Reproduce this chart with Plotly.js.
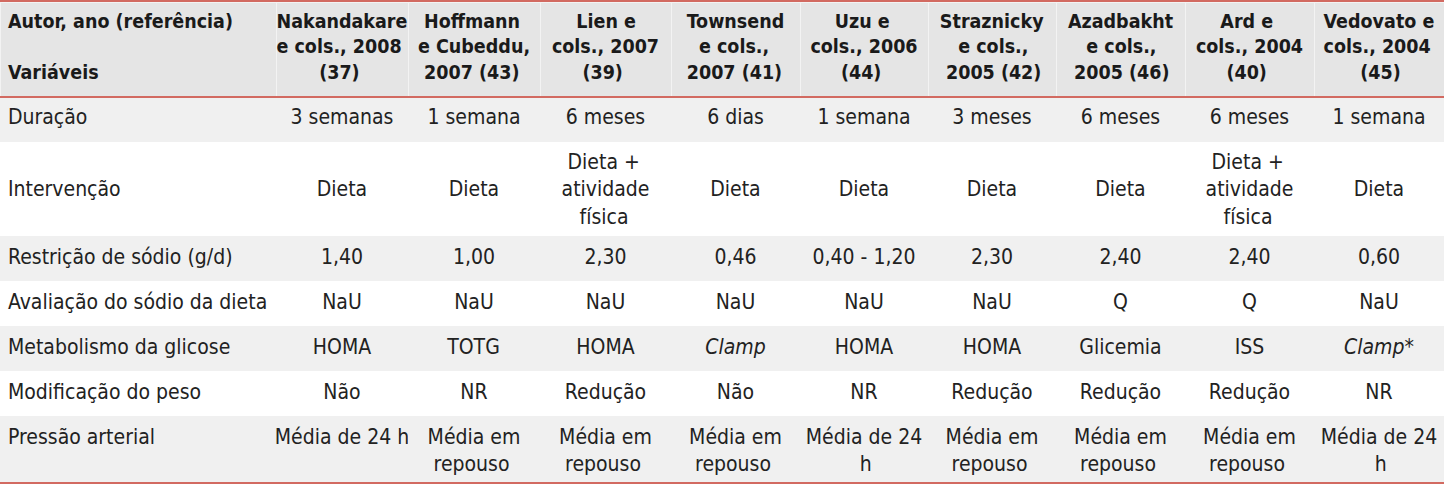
<!DOCTYPE html>
<html>
<head>
<meta charset="utf-8">
<script src="https://cdn.plot.ly/plotly-3.0.1.min.js"></script>
<style>
  html, body { margin: 0; padding: 0; background: #fff; }
  #tab { width: 1444px; height: 486px; }
</style>
</head>
<body>
<div id="tab"></div>
<script>
const headerFirst = 'Autor, ano (referência)<br> <br>Variáveis';
const autores = [
  'Nakandakare<br>e cols., 2008<br>(37)',
  'Hoffmann<br>e Cubeddu,<br>2007 (43)',
  'Lien e<br>cols., 2007<br>(39)',
  'Townsend<br>e cols.,<br>2007 (41)',
  'Uzu e<br>cols., 2006<br>(44)',
  'Straznicky<br>e cols.,<br>2005 (42)',
  'Azadbakht<br>e cols.,<br>2005 (46)',
  'Ard e<br>cols., 2004<br>(40)',
  'Vedovato e<br>cols., 2004<br>(45)'
];

const variaveis = [
  'Duração',
  ' <br>Intervenção',
  'Restrição de sódio (g/d)',
  'Avaliação do sódio da dieta',
  'Metabolismo da glicose',
  'Modificação do peso',
  'Pressão arterial'
];

const duracao = ['3 semanas', '1 semana', '6 meses', '6 dias', '1 semana', '3 meses', '6 meses', '6 meses', '1 semana'];
const intervencao = [' <br>Dieta', ' <br>Dieta', 'Dieta +<br>atividade<br>física', ' <br>Dieta', ' <br>Dieta', ' <br>Dieta', ' <br>Dieta', 'Dieta +<br>atividade<br>física', ' <br>Dieta'];
const restricao = ['1,40', '1,00', '2,30', '0,46', '0,40 - 1,20', '2,30', '2,40', '2,40', '0,60'];
const avaliacao = ['NaU', 'NaU', 'NaU', 'NaU', 'NaU', 'NaU', 'Q', 'Q', 'NaU'];
const metabolismo = ['HOMA', 'TOTG', 'HOMA', '<i>Clamp</i>', 'HOMA', 'HOMA', 'Glicemia', 'ISS', '<i>Clamp</i>*'];
const peso = ['Não', 'NR', 'Redução', 'Não', 'NR', 'Redução', 'Redução', 'Redução', 'NR'];
const pressao = ['Média de 24 h', 'Média em<br>repouso', 'Média em<br>repouso', 'Média em<br>repouso', 'Média de 24<br>h', 'Média em<br>repouso', 'Média em<br>repouso', 'Média em<br>repouso', 'Média de 24<br>h'];

const linhas = [duracao, intervencao, restricao, avaliacao, metabolismo, peso, pressao];

const FAM = '"DejaVu Sans Condensed", "DejaVu Sans", sans-serif';
const BODY_SIZE = 21;
const HEAD_SIZE = 19.5;
const red = '#d26a61';

// single line labels must not be auto-wrapped by the table; the span puts them
// through the same (slightly lower) placement as the multi-line cells
function noWrap(txt) {
  if (txt.indexOf('<br>') >= 0) return txt;
  return '<span>' + txt.replace(/ /g, '\u00a0') + '</span>';
}

// plotly table left-aligns the lines inside a cell, so pad the short ones with nbsp
const meas = document.createElement('canvas').getContext('2d');
function centerLines(txt, size, weight) {
  if (txt.indexOf('<br>') < 0) return noWrap(txt);
  meas.font = `${weight} ${size}px "DejaVu Sans Condensed"`;
  const parts = txt.split('<br>');
  const w = parts.map((p) => meas.measureText(p.replace(/<[^>]+>/g, '')).width);
  const max = Math.max(...w);
  const nb = meas.measureText('\u00a0').width;
  return parts.map((p, i) => '\u00a0'.repeat(Math.max(0, Math.round((max - w[i]) / 2 / nb))) + p).join('<br>');
}

// table wants columns, so transpose the rows
const colunas = [variaveis.map(noWrap)].concat(autores.map((_, j) => linhas.map((r) => centerLines(r[j], BODY_SIZE, 'normal'))));
const cabecalho = [headerFirst].concat(autores.map((a) => centerLines(a, HEAD_SIZE, 'bold')));

const rowFill = ['#f0f0f0', '#ffffff', '#f0f0f0', '#ffffff', '#f0f0f0', '#ffffff', '#f0f0f0'];

Plotly.newPlot('tab', [{
  type: 'table',
  columnwidth: [276, 132, 132, 131, 129, 128, 128, 129, 129, 130],
  domain: { x: [0, 1], y: [0, 1 - 2 / 486] },
  header: {
    values: cabecalho,
    align: ['left'].concat(autores.map(() => 'center')),
    fill: { color: '#e5e5e5' },
    line: { color: '#f3f3f3', width: 1 },
    font: { family: FAM, size: HEAD_SIZE, color: '#1a1a1a', weight: 'bold' },
    height: 95
  },
  cells: {
    values: colunas,
    align: ['left'].concat(autores.map(() => 'center')),
    fill: { color: colunas.map(() => rowFill) },
    line: { color: colunas.map(() => rowFill), width: 1 },
    font: { family: FAM, size: BODY_SIZE, color: '#222222' },
    height: 45
  }
}], {
  width: 1444,
  height: 486,
  margin: { l: 0, r: 0, t: 0, b: 0 },
  paper_bgcolor: '#ffffff',
  shapes: [
    { type: 'line', xref: 'paper', yref: 'paper', x0: 0, x1: 1, y0: 1 - 1 / 486, y1: 1 - 1 / 486, line: { color: red, width: 2 } },
    { type: 'line', xref: 'paper', yref: 'paper', x0: 0, x1: 1, y0: 1 - 97 / 486, y1: 1 - 97 / 486, line: { color: red, width: 2 } },
    { type: 'line', xref: 'paper', yref: 'paper', x0: 0, x1: 1, y0: 1 - 483 / 486, y1: 1 - 483 / 486, line: { color: red, width: 2 } }
  ]
}, { displayModeBar: false, staticPlot: true });
</script>
</body>
</html>
